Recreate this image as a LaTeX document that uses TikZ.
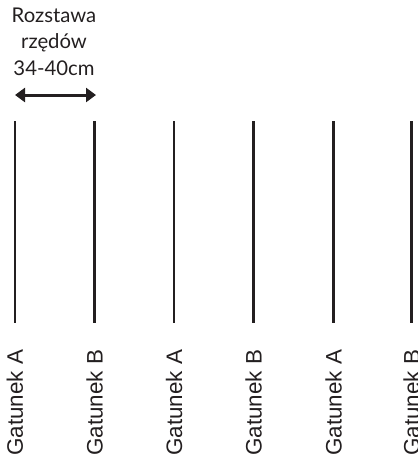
\documentclass[tikz,border=0pt]{standalone}
\usepackage{fontspec}
\setmainfont{Lato}
\newfontfamily\labelfont{Liberation Sans}
\usetikzlibrary{arrows.meta}
\definecolor{ink}{HTML}{231F20}
\begin{document}
\begin{tikzpicture}[x=1pt,y=-1pt,
  row/.style={draw=ink,line width=2.7pt},
  lab/.style={rotate=90,anchor=base west,inner sep=0pt,font=\labelfont\fontsize{22.4}{26}\selectfont,text=ink},
  title/.style={align=center,inner sep=0pt,font=\fontsize{20.3}{26.5}\selectfont,text=ink,anchor=base}
]
\useasboundingbox (0,0) rectangle (418,464);
\foreach \i/\x/\t in {1/15/A,2/94.5/B,3/174/A,4/253.5/B,5/333.5/A,6/411.5/B}{
  \coordinate (t\i) at (\x,121);
  \coordinate (b\i) at (\x,323);
  \draw[row] (t\i) -- (b\i);
  \node[lab] (l\i) at (\x+8,456) {Gatunek \t};
}
\node[title] (h1) at (54,22) {Rozstawa};
\node[title] (h2) at (54,48.5) {rzędów};
\node[title] (h3) at (54,75) {34-40cm};
\coordinate (a1) at (15,95);
\coordinate (a2) at (96,95);
\draw[draw=ink,line width=3pt,{Triangle[length=10pt,width=14pt]}-{Triangle[length=10pt,width=14pt]}] (a1) -- (a2);
\end{tikzpicture}
\end{document}
